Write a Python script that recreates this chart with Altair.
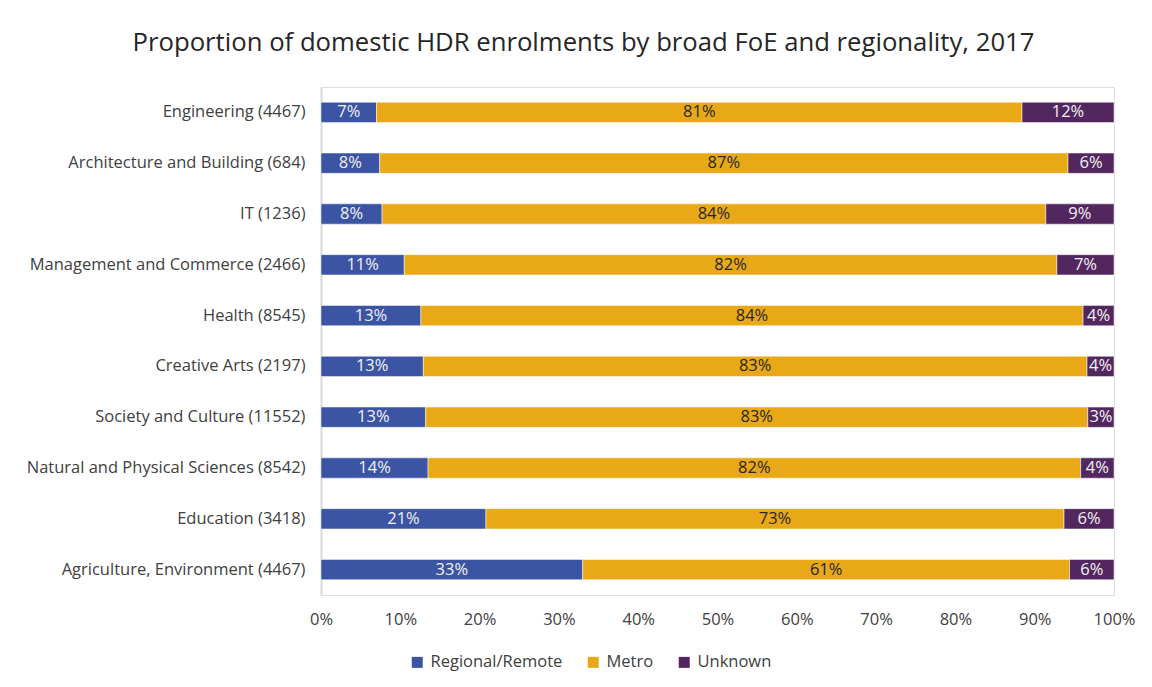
import altair as alt
import pandas as pd

categories = [
    "Engineering (4467)",
    "Architecture and Building (684)",
    "IT (1236)",
    "Management and Commerce (2466)",
    "Health (8545)",
    "Creative Arts (2197)",
    "Society and Culture (11552)",
    "Natural and Physical Sciences (8542)",
    "Education (3418)",
    "Agriculture, Environment (4467)",
]
series = ["Regional/Remote", "Metro", "Unknown"]
regional = [7.0, 7.4, 7.7, 10.5, 12.6, 12.9, 13.2, 13.5, 20.8, 33.0]
metro = [81.4, 86.8, 83.7, 82.3, 83.5, 83.7, 83.5, 82.3, 72.9, 61.4]
unknown = [11.6, 5.8, 8.6, 7.2, 3.9, 3.4, 3.3, 4.2, 6.3, 5.6]
regional_labels = ["7%", "8%", "8%", "11%", "13%", "13%", "13%", "14%", "21%", "33%"]
metro_labels = ["81%", "87%", "84%", "82%", "84%", "83%", "83%", "82%", "73%", "61%"]
unknown_labels = ["12%", "6%", "9%", "7%", "4%", "4%", "3%", "4%", "6%", "6%"]
x_ticks = [0, 0.1, 0.2, 0.3, 0.4, 0.5, 0.6, 0.7, 0.8, 0.9, 1.0]

rows = []
for i, cat in enumerate(categories):
    vals = [regional[i], metro[i], unknown[i]]
    labs = [regional_labels[i], metro_labels[i], unknown_labels[i]]
    total = sum(vals)
    start = 0.0
    for j, s in enumerate(series):
        v = vals[j] / total
        rows.append({
            "category": cat, "series": s, "order": j,
            "start": start, "end": start + v, "mid": start + v / 2,
            "label": labs[j],
        })
        start += v
df = pd.DataFrame(rows)

FONT = "Open Sans"
FS = 16.5
colors = ["#3B54A4", "#E9A916", "#52275F"]

y_enc = alt.Y("category:N", sort=categories, title=None,
              scale=alt.Scale(paddingInner=0.6, paddingOuter=0.3),
              axis=alt.Axis(domain=True, domainColor="#D9D9D9", domainWidth=2,
                            ticks=False, labelFontSize=FS, labelColor="#404040",
                            labelFont=FONT, labelPadding=16, labelLimit=400))

bars = alt.Chart(df).mark_bar(stroke="white", strokeWidth=0.5).encode(
    x=alt.X("start:Q", title=None,
            scale=alt.Scale(domain=[0, 1], nice=False),
            axis=alt.Axis(format=".0%", values=x_ticks, domain=False, ticks=False,
                          grid=False, labelFontSize=FS, labelColor="#404040",
                          labelFont=FONT, labelPadding=16, labelFlush=False)),
    x2="end:Q",
    y=y_enc,
    color=alt.Color("series:N", sort=series,
                    scale=alt.Scale(domain=series, range=colors),
                    legend=alt.Legend(title=None, orient="none", direction="horizontal",
                                      legendX=88, legendY=567, symbolType="square",
                                      symbolSize=121, symbolStrokeWidth=0,
                                      labelFontSize=FS, labelColor="#404040",
                                      labelFont=FONT, columnPadding=22, labelOffset=5)),
)

texts = alt.Chart(df).mark_text(fontSize=FS, font=FONT).encode(
    x=alt.X("mid:Q"),
    y=alt.Y("category:N", sort=categories),
    text="label:N",
    color=alt.condition(alt.datum.series == "Metro", alt.value("#262626"), alt.value("#F2F2F2")),
)

chart = alt.layer(bars, texts).properties(
    width=793, height=508,
    autosize=alt.AutoSizeParams(type="none"),
    padding={"left": 313, "top": 79, "right": 30, "bottom": 84},
    title=alt.TitleParams(
        "Proportion of domestic HDR enrolments by broad FoE and regionality, 2017",
        fontSize=25.7, font=FONT, fontWeight="normal", color="#262626",
        anchor="middle", frame="group", dx=-134, offset=30),
).configure_view(stroke=None).configure(background="white")

chart.save("out.html", embed_options={"renderer": "svg", "actions": False})
